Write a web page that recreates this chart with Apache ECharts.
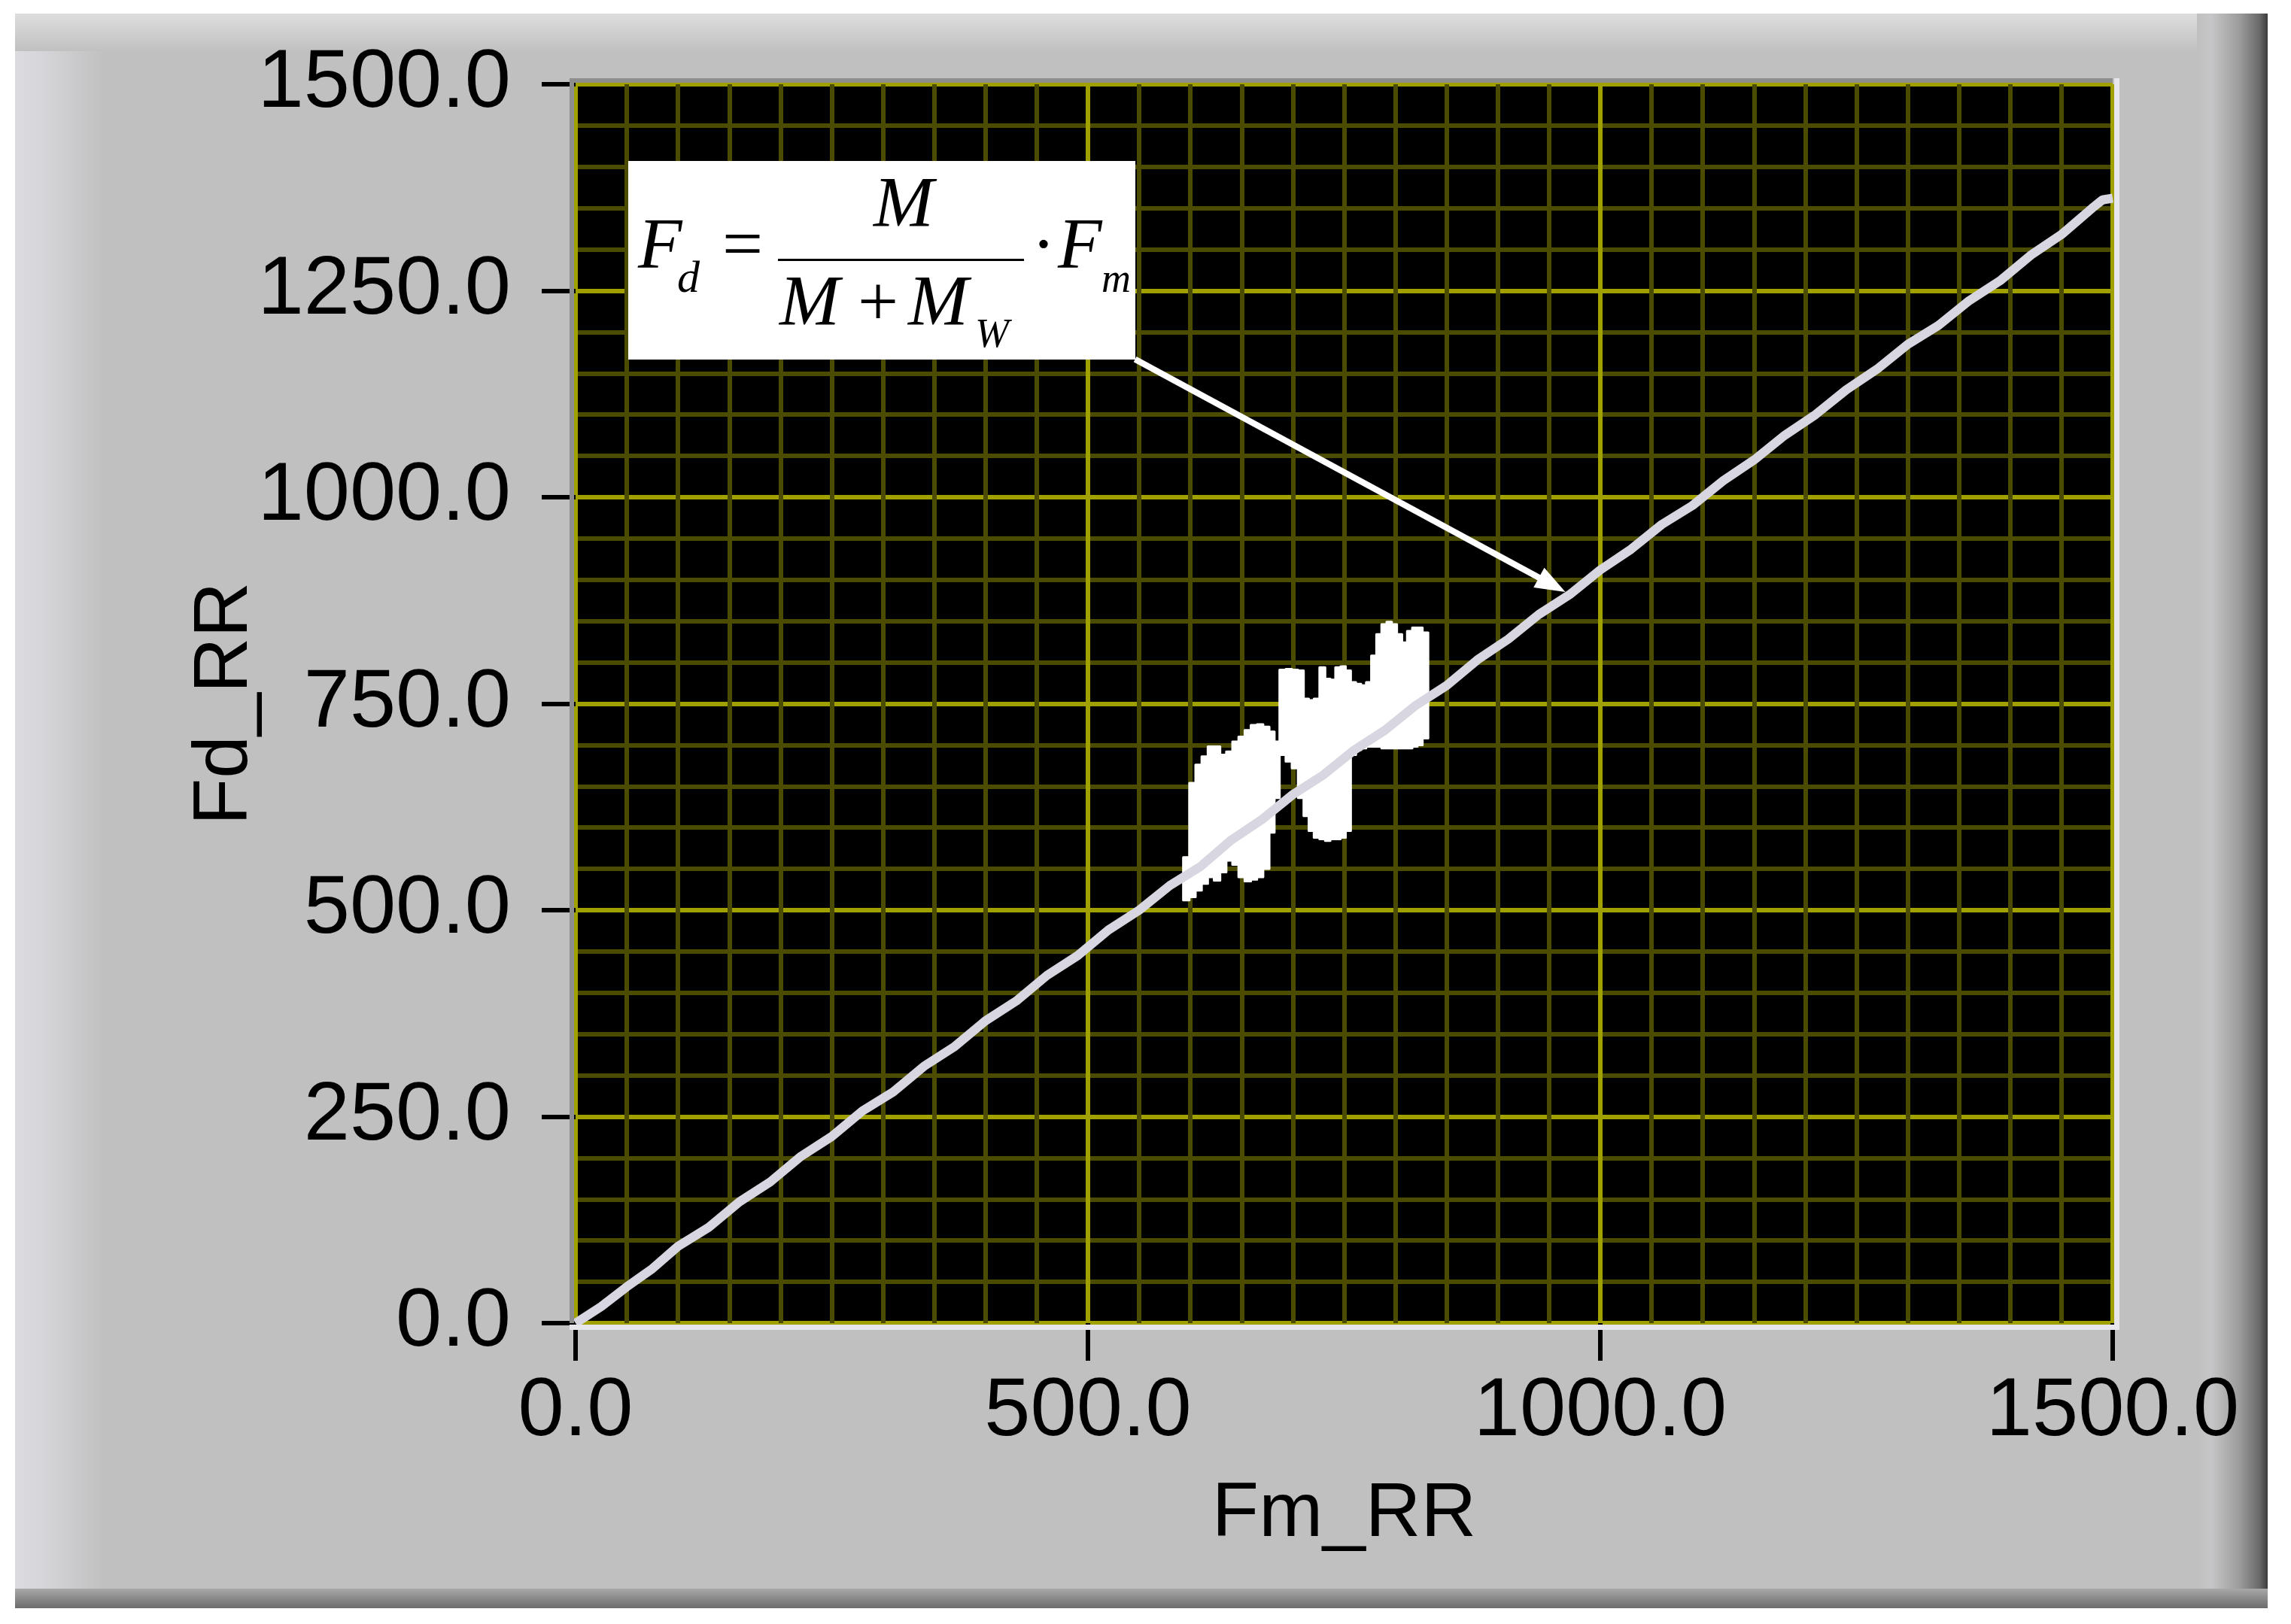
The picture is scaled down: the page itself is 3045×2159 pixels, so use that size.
<!DOCTYPE html>
<html>
<head>
<meta charset="utf-8">
<script src="https://cdn.jsdelivr.net/npm/echarts@6/dist/echarts.min.js"></script>
<style>
html,body{margin:0;padding:0;background:#ffffff;}
#chart{width:3045px;height:2159px;}
</style>
</head>
<body>
<div id="chart"></div>
<script>
// ---- data ----
const xTicks = [0, 500, 1000, 1500];
const yTicks = [0, 250, 500, 750, 1000, 1250, 1500];
const xAxisName = 'Fm_RR';
const yAxisName = 'Fd_RR';

// model line (grey trace)
const lineX = [0, 10, 25, 50, 75, 100, 130, 160, 190, 220, 250, 280, 310, 340, 370, 400, 430, 460, 490, 520, 550, 580, 610, 640, 670, 700, 730, 760, 790, 820, 850, 880, 910, 940, 970, 1000, 1030, 1060, 1090, 1120, 1150, 1180, 1210, 1240, 1270, 1300, 1330, 1360, 1390, 1420, 1450, 1480, 1490, 1500];
const lineY = [0, 8, 20, 44, 66, 93, 116, 147, 171, 202, 226, 257, 280, 311, 335, 366, 390, 421, 445, 476, 500, 530, 553, 585, 610, 640, 664, 694, 718, 748, 772, 803, 828, 858, 882, 912, 937, 967, 990, 1020, 1045, 1075, 1100, 1130, 1155, 1185, 1208, 1238, 1262, 1293, 1318, 1350, 1360, 1362];

// measured data (white noisy trace): for each Fm value, lowest and highest Fd reached
const clusterX    = [596, 602, 608, 614, 620, 626, 632, 638, 644, 650, 656, 662, 668, 674, 680, 684, 690, 696, 702, 708, 713, 718, 723, 729, 734, 739, 744, 749, 754, 759, 764, 769, 774, 779, 784, 789, 794, 799, 804, 809, 814, 819, 824, 829];
const clusterLow  = [512, 516, 524, 532, 540, 536, 546, 560, 555, 540, 535, 537, 540, 550, 594, 636, 688, 680, 672, 636, 614, 596, 588, 586, 584, 586, 586, 588, 596, 688, 694, 696, 698, 698, 698, 696, 696, 696, 696, 696, 696, 698, 700, 708];
const clusterHigh = [564, 654, 676, 686, 698, 698, 688, 692, 704, 710, 718, 724, 725, 722, 716, 704, 791, 792, 791, 790, 756, 754, 756, 794, 780, 779, 794, 795, 790, 776, 774, 772, 776, 808, 834, 846, 849, 846, 834, 824, 838, 842, 842, 836];

// arrow annotation (data coordinates: from the label box corner to the line)
const arrowFrom = [546, 1167];
const arrowTo = [953, 894];

// ---- build series data ----
const lineData = lineX.map((x, i) => [x, lineY[i]]);
const clusterData = clusterX.map((x, i) => [x, clusterLow[i], clusterHigh[i]]);

// ---- layout ----
const G = { left: 765, top: 112, width: 2043, height: 1647 };
const labelFont = "'Liberation Sans', Arial, sans-serif";
const serif = "'Liberation Serif', 'DejaVu Serif', serif";

const chart = echarts.init(document.getElementById('chart'), null, { renderer: 'canvas' });

function txt(x, y, s, size, italic, align) {
  return {
    type: 'text', z: 101, x: x, y: y,
    style: {
      text: s, fill: '#000',
      font: (italic ? 'italic ' : '') + size + 'px ' + serif,
      align: align || 'left', verticalAlign: 'middle'
    }
  };
}

// white noisy region drawn as one blocky polygon through the read extents
function renderCluster(params, api) {
  if (params.dataIndex !== 0) return null;
  const n = clusterX.length;
  const edgeL = i => i === 0 ? clusterX[0] - 3 : (clusterX[i - 1] + clusterX[i]) / 2;
  const edgeR = i => i === n - 1 ? clusterX[n - 1] + 3 : (clusterX[i] + clusterX[i + 1]) / 2;
  const pts = [];
  for (let i = 0; i < n; i++) {
    pts.push(api.coord([edgeL(i), clusterHigh[i]]));
    pts.push(api.coord([edgeR(i), clusterHigh[i]]));
  }
  for (let i = n - 1; i >= 0; i--) {
    pts.push(api.coord([edgeR(i), clusterLow[i]]));
    pts.push(api.coord([edgeL(i), clusterLow[i]]));
  }
  return {
    type: 'polygon',
    shape: { points: pts },
    style: { fill: '#ffffff', stroke: '#ffffff', lineWidth: 3, lineJoin: 'round' }
  };
}

const option = {
  backgroundColor: '#ffffff',
  animation: false,
  grid: {
    left: G.left, top: G.top, width: G.width, height: G.height,
    show: true, backgroundColor: '#000000', borderWidth: 0
  },
  xAxis: {
    type: 'value', min: xTicks[0], max: xTicks[xTicks.length - 1], interval: 500,
    offset: 14,
    name: xAxisName, nameLocation: 'middle', nameGap: 190, nameMoveOverlap: false,
    nameTextStyle: { fontFamily: labelFont, fontSize: 102, color: '#000' },
    axisLine: { show: false },
    axisTick: { show: true, length: 50, lineStyle: { color: '#000', width: 6 } },
    axisLabel: { margin: 50, fontFamily: labelFont, fontSize: 110, color: '#000',
      formatter: v => v.toFixed(1) },
    splitLine: { show: true, lineStyle: { color: '#a0a000', width: 6 } },
    minorTick: { show: false, splitNumber: 10 },
    minorSplitLine: { show: true, lineStyle: { color: '#4c4c00', width: 6 } }
  },
  yAxis: {
    type: 'value', min: yTicks[0], max: yTicks[yTicks.length - 1], interval: 250,
    offset: 22,
    name: yAxisName, nameLocation: 'middle', nameGap: 392, nameRotate: 90, nameMoveOverlap: false,
    nameTextStyle: { fontFamily: labelFont, fontSize: 102, color: '#000' },
    axisLine: { show: false },
    axisTick: { show: true, length: 45, lineStyle: { color: '#000', width: 6 } },
    axisLabel: { margin: 64, fontFamily: labelFont, fontSize: 110, color: '#000',
      formatter: v => v.toFixed(1) },
    splitLine: { show: true, lineStyle: { color: '#a0a000', width: 6 } },
    minorTick: { show: false, splitNumber: 5 },
    minorSplitLine: { show: true, lineStyle: { color: '#4c4c00', width: 6 } }
  },
  series: [
    {
      name: 'measured', type: 'custom', data: clusterData, z: 2, clip: true,
      encode: { x: 0, y: [1, 2] },
      renderItem: renderCluster
    },
    {
      name: 'model', type: 'line', data: lineData, z: 3,
      showSymbol: false, symbol: 'none',
      lineStyle: { color: '#d8d6e0', width: 12 },
      markLine: {
        silent: true, z: 10,
        symbol: ['none', 'triangle'], symbolSize: [30, 40],
        label: { show: false },
        lineStyle: { color: '#ffffff', width: 8, type: 'solid', opacity: 1 },
        data: [[{ coord: arrowFrom }, { coord: arrowTo }]]
      }
    }
  ],
  graphic: [
    // panel
    { type: 'rect', z: -10, shape: { x: 20, y: 18, width: 2994, height: 2120 }, style: { fill: '#c0c0c0' } },
    { type: 'rect', z: -9, shape: { x: 20, y: 18, width: 120, height: 2120 },
      style: { fill: new echarts.graphic.LinearGradient(0, 0, 1, 0, [{ offset: 0, color: '#dcdce0' }, { offset: 0.3, color: '#d6d6da' }, { offset: 1, color: '#c0c0c0' }]) } },
    { type: 'rect', z: -9, shape: { x: 20, y: 18, width: 2900, height: 50 },
      style: { fill: new echarts.graphic.LinearGradient(0, 0, 0, 1, [{ offset: 0, color: '#dedede' }, { offset: 1, color: '#c0c0c0' }]) } },
    { type: 'rect', z: -8, shape: { x: 2920, y: 18, width: 94, height: 2120 },
      style: { fill: new echarts.graphic.LinearGradient(0, 0, 1, 0, [{ offset: 0, color: '#c0c0c0' }, { offset: 0.2, color: '#c6c6c8' }, { offset: 0.6, color: '#9c9c9c' }, { offset: 0.88, color: '#6a6a6a' }, { offset: 1, color: '#3c3c3c' }]) } },
    { type: 'rect', z: -7, shape: { x: 20, y: 2112, width: 2994, height: 26 },
      style: { fill: new echarts.graphic.LinearGradient(0, 0, 0, 1, [{ offset: 0, color: '#a8a8a8' }, { offset: 1, color: '#6c6c6c' }]) } },
    // sunken frame around the plot
    { type: 'rect', z: 50, shape: { x: G.left - 8, y: G.top - 8, width: G.width + 8, height: 6 }, style: { fill: '#8e8e8e' } },
    { type: 'rect', z: 50, shape: { x: G.left - 8, y: G.top - 8, width: 6, height: G.height + 8 }, style: { fill: '#8e8e8e' } },
    { type: 'rect', z: 50, shape: { x: G.left - 8, y: G.top + G.height + 2, width: G.width + 16, height: 7 }, style: { fill: '#e6e6ec' } },
    { type: 'rect', z: 50, shape: { x: G.left + G.width + 2, y: G.top - 8, width: 7, height: G.height + 17 }, style: { fill: '#e6e6ec' } },
    // formula box
    { type: 'rect', z: 100, shape: { x: 835, y: 214, width: 674, height: 264 }, style: { fill: '#ffffff' } },
    txt(848, 331, 'F', 96, true),
    txt(900, 372, 'd', 60, true),
    txt(960, 331, '=', 96, false),
    { type: 'rect', z: 101, shape: { x: 1034, y: 344, width: 327, height: 3 }, style: { fill: '#000' } },
    txt(1201, 276, 'M', 96, true, 'center'),
    txt(1036, 407, 'M', 96, true),
    txt(1140, 407, '+', 96, false),
    txt(1207, 407, 'M', 96, true),
    txt(1296, 447, 'W', 54, true),
    txt(1387, 331, '·', 96, false, 'center'),
    txt(1406, 331, 'F', 96, true),
    txt(1464, 374, 'm', 54, true)
  ]
};
chart.setOption(option);
</script>
</body>
</html>
